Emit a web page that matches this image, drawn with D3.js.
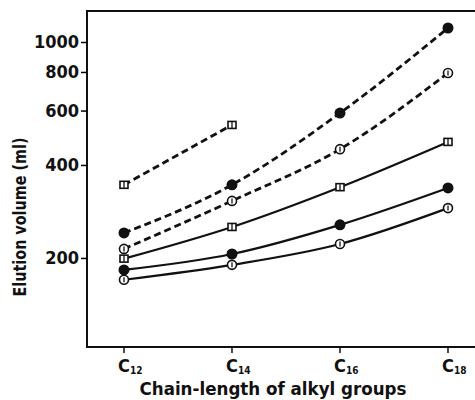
<!DOCTYPE html>
<head>
  <title>Elution volume vs chain length</title>
</head>
<style>
html, body {
  margin: 0;
  padding: 0;
  background: #ffffff;
}
svg text {
  font-family: "DejaVu Sans Condensed", "DejaVu Sans", sans-serif;
  font-weight: bold;
  fill: #111111;
}
.frame {
  stroke: #111111;
  stroke-width: 2px;
  fill: none;
}
.series {
  fill: none;
  stroke: #111111;
}
</style>
<body>
<svg width="475" height="400"></svg>

<script src="https://d3js.org/d3.v7.min.js"></script>
<script>
// chain lengths (x categories)
var chains = [12, 14, 16, 18];
// y tick labels
var yTicks = [200, 400, 600, 800, 1000];

var dashSquare  = [345, 539, null, null];
var dashFilled  = [241, 345, 589, 1110];
var dashOpen    = [214, 306, 450, 794];
var solidSquare = [199, 252, 339, 475];
var solidFilled = [183, 206, 256, 337];
var solidOpen   = [170, 190, 222, 290];

var series = [
  {values: dashSquare,  dashed: true,  marker: "square"},
  {values: dashFilled,  dashed: true,  marker: "filled"},
  {values: dashOpen,    dashed: true,  marker: "open"},
  {values: solidSquare, dashed: false, marker: "square"},
  {values: solidFilled, dashed: false, marker: "filled"},
  {values: solidOpen,   dashed: false, marker: "open"}
];

var svg = d3.select("svg");

// plot box (right side runs off the page)
var box = {left: 87, top: 11, bottom: 347, right: 475};

var x = d3.scaleLinear()
          .domain([11.315, 18.5])
          .range([box.left, box.right]);

var y = d3.scaleLog()
          .domain([103, 1260])
          .range([box.bottom, box.top]);

// frame: left, top and bottom
svg.append("path")
  .attr("class", "frame")
  .attr("d", "M" + box.right + "," + box.top + "H" + box.left + "V" + box.bottom + "H" + box.right);

// y axis ticks
var yAxis = d3.axisLeft(y)
              .tickValues(yTicks)
              .tickFormat(d3.format("d"))
              .tickSize(6)
              .tickPadding(2);

var gy = svg.append("g")
  .attr("transform", "translate(" + box.left + ",0)")
  .call(yAxis);
gy.select(".domain").remove();
gy.selectAll("line").attr("stroke-width", 1.5);
gy.selectAll("text")
  .attr("font-size", 18)
  .attr("fill", "#111")
  .style("font-family", "'DejaVu Sans Condensed', sans-serif")
  .style("font-weight", "bold");

// x axis ticks with C-subscript labels
var gx = svg.append("g");
gx.selectAll("line")
  .data(chains)
  .enter().append("line")
    .attr("x1", function(d) { return x(d); })
    .attr("x2", function(d) { return x(d); })
    .attr("y1", box.bottom)
    .attr("y2", box.bottom + 6)
    .attr("stroke", "#111")
    .attr("stroke-width", 1.5);

var xl = gx.selectAll("text")
  .data(chains)
  .enter().append("text")
    .attr("x", function(d) { return x(d) - 6; })
    .attr("y", 372)
    .attr("font-size", 18);
xl.append("tspan").text("C");
xl.append("tspan")
  .attr("font-size", 10)
  .attr("dy", 2)
  .text(function(d) { return d; });

// axis titles
svg.append("text")
  .attr("x", 273)
  .attr("y", 395)
  .attr("text-anchor", "middle")
  .attr("font-size", 18)
  .attr("textLength", 267)
  .attr("lengthAdjust", "spacingAndGlyphs")
  .text("Chain-length of alkyl groups");

svg.append("text")
  .attr("transform", "translate(26,217) rotate(-90)")
  .attr("text-anchor", "middle")
  .attr("font-size", 17)
  .attr("textLength", 159)
  .attr("lengthAdjust", "spacingAndGlyphs")
  .text("Elution volume (ml)");

// lines
var line = d3.line()
             .defined(function(d) { return d[1] != null; })
             .x(function(d) { return x(d[0]); })
             .y(function(d) { return y(d[1]); })
             .curve(d3.curveMonotoneX);

series.forEach(function(s) {
  var pts = chains.map(function(c, i) { return [c, s.values[i]]; });
  svg.append("path")
    .attr("class", "series")
    .attr("d", line(pts))
    .attr("stroke-width", s.dashed ? 2.8 : 2.2)
    .attr("stroke-dasharray", s.dashed ? "7,4" : null);

  var m = svg.append("g")
    .selectAll("g")
    .data(pts.filter(function(d) { return d[1] != null; }))
    .enter().append("g")
      .attr("transform", function(d) { return "translate(" + x(d[0]) + "," + y(d[1]) + ")"; });

  if (s.marker == "filled") {
    m.append("circle").attr("r", 5.5).attr("fill", "#111");
  } else if (s.marker == "open") {
    m.append("circle").attr("r", 4.5).attr("fill", "#fff")
      .attr("stroke", "#111").attr("stroke-width", 1.6);
    m.append("line").attr("x1", 0).attr("x2", 0).attr("y1", -2.5).attr("y2", 2.5)
      .attr("stroke", "#111").attr("stroke-width", 1.3);
  } else {
    m.append("rect").attr("x", -4).attr("y", -3.5).attr("width", 8).attr("height", 7)
      .attr("fill", "#fff").attr("stroke", "#111").attr("stroke-width", 1.6);
    m.append("line").attr("x1", 0).attr("x2", 0).attr("y1", -3).attr("y2", 3)
      .attr("stroke", "#111").attr("stroke-width", 1.3);
  }
});
</script>
</body>
